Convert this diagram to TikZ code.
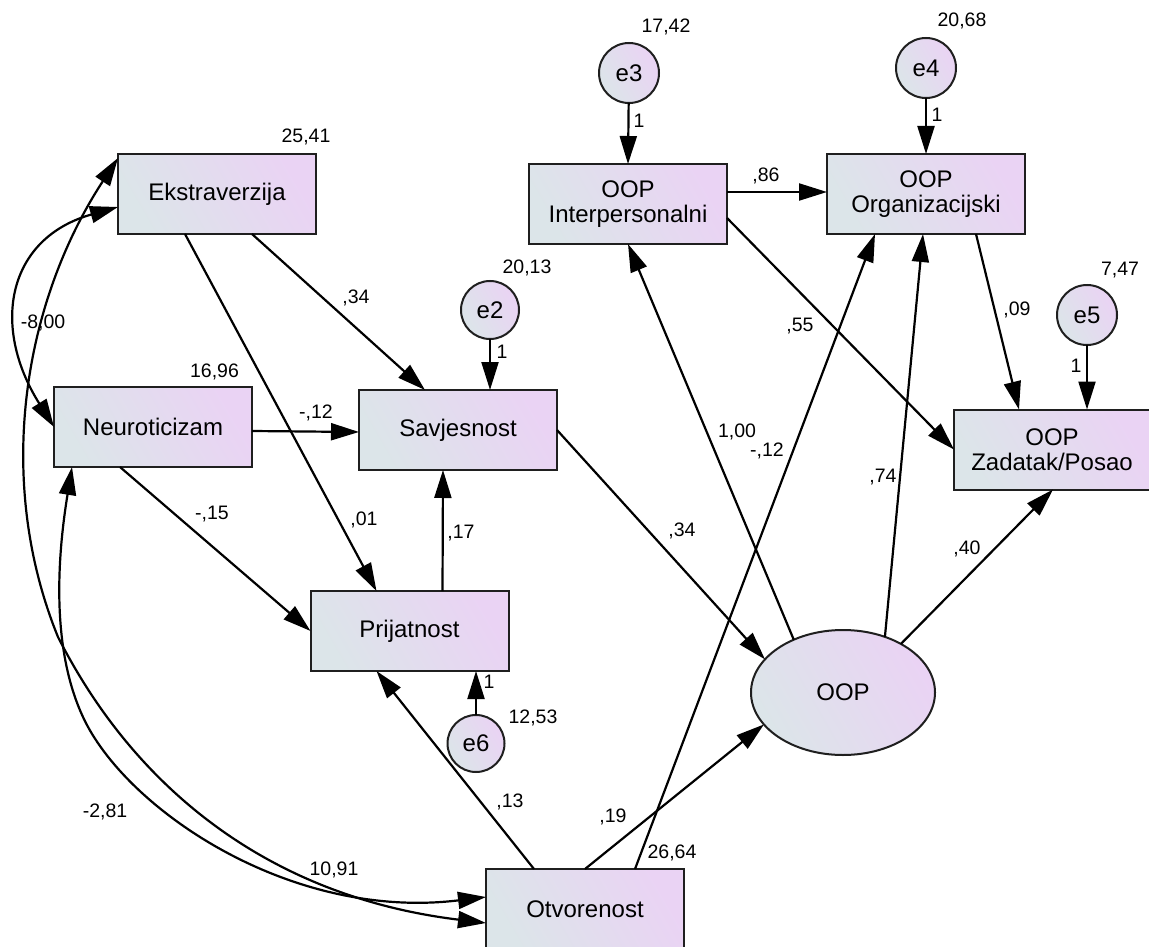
\documentclass[tikz,border=0pt]{standalone}
\usepackage{fontspec}
\setmainfont{Liberation Sans}
\usetikzlibrary{arrows.meta,calc,shapes.geometric}
\definecolor{gA}{RGB}{220,229,233}
\definecolor{gB}{RGB}{234,211,244}
\tikzset{
  fillg/.style={draw=black!88, line width=2pt, left color=gA, right color=gB, shading angle=120, inner sep=0pt, outer sep=0pt},
  box/.style={fillg, rectangle, minimum width=198pt, minimum height=80pt, align=center, font=\fontsize{24}{25}\selectfont},
  circ/.style={fillg, circle, minimum size=60pt, font=\fontsize{24}{25}\selectfont},
  ell/.style={fillg, ellipse, minimum width=184pt, minimum height=125pt, font=\fontsize{24}{25}\selectfont},
  lab/.style={font=\fontsize{19.5}{20}\selectfont, inner sep=0pt, anchor=base},
  arr/.style={line width=2.2pt, -{Triangle[length=28pt,width=17pt]}},
  biarr/.style={line width=2.2pt, {Triangle[length=28pt,width=17pt]}-{Triangle[length=28pt,width=17pt]}}
}
\begin{document}
\begin{tikzpicture}[x=1pt,y=-1pt]
\useasboundingbox (0,0) rectangle (1149,947);
% nodes
\node[box] (ext) at (217,194) {Ekstraverzija};
\node[box] (neu) at (153,427) {Neuroticizam};
\node[box] (sav) at (458,430) {Savjesnost};
\node[box] (pri) at (409.5,631) {Prijatnost};
\node[box] (otv) at (585,909) {Otvorenost};
\node[box] (int) at (628,204) {OOP\\Interpersonalni};
\node[box] (org) at (926,194) {OOP\\Organizacijski};
\node[box, minimum width=196pt] (zad) at (1052,449.5) {OOP\\Zadatak/Posao};
\node[ell] (oop) at (843,692.5) {OOP};
\node[circ] (e3) at (629,73) {e3};
\node[circ] (e4) at (926,68) {e4};
\node[circ, minimum size=58pt] (e2) at (490,310) {e2};
\node[circ] (e5) at (1087,315) {e5};
\node[circ, minimum size=57pt] (e6) at (476,743.5) {e6};
% one-way paths
\draw[arr] ($(ext.south)+(-32,0)$) -- ($(pri.north)+(-33,0)$);
\draw[arr] ($(ext.south)+(35,0)$) -- ($(sav.north)+(-33,0)$);
\draw[arr] ($(neu.east)+(0,4)$) -- ($(sav.west)+(0,2)$);
\draw[arr] ($(neu.south)+(-33,0)$) -- (pri.west);
\draw[arr] ($(pri.north)+(33,0)$) -- ($(sav.south)+(-15,0)$);
\draw[arr] (e2) -- ($(sav.north)+(32,0)$);
\draw[arr] (e6) -- ($(pri.south)+(66.5,0)$);
\draw[arr] ($(otv.north)+(-51,0)$) -- ($(pri.south)+(-33,0)$);
\draw[arr] (otv.north) -- (oop.202);
\draw[arr] ($(otv.north)+(50,0)$) -- ($(org.south)+(-51,0)$);
\draw[arr] (oop.133) -- (int.south);
\draw[arr] (oop.53) -- ($(org.south)+(-3,0)$);
\draw[arr] (oop.40) -- ($(zad.south)+(1,0)$);
\draw[arr] ($(int.east)+(0,-12)$) -- ($(org.west)+(0,-2)$);
\draw[arr] ($(int.east)+(0,14)$) -- (zad.west);
\draw[arr] ($(org.south)+(50,0)$) -- ($(zad.north)+(-33,0)$);
\draw[arr] (e5) -- ($(zad.north)+(35,0)$);
\draw[arr] (e3) -- (int.north);
\draw[arr] (e4) -- (org.north);
\draw[arr] (sav.east) -- (oop.157);
% covariances
\draw[biarr] ($(ext.west)+(0,13)$) .. controls (8,238) and (-10,325) .. (neu.west);
\draw[biarr] ($(ext.north west)+(0,4)$) .. controls (22,305) and (-5,482) .. (58,637) .. controls (134.5,788) and (269,896.6) .. ($(otv.west)+(0,14)$);
\draw[biarr] ($(neu.south west)+(18,0)$) .. controls (59,547) and (49,644) .. (83,717) .. controls (125,808) and (289,921) .. ($(otv.west)+(0,-12)$);
% labels
\node[lab] (v1) at (306,143) {25,41};
\node[lab] (v2) at (214.5,377) {16,96};
\node[lab] (v3) at (527,273) {20,13};
\node[lab] (v4) at (666,33) {17,42};
\node[lab] (v5) at (962,27) {20,68};
\node[lab] (v6) at (1120,275) {7,47};
\node[lab] (v7) at (533,723) {12,53};
\node[lab] (v8) at (672,858) {26,64};
\node[lab] (c1) at (43,328) {-8,00};
\node[lab] (c2) at (105,817) {-2,81};
\node[lab] (c3) at (334,875) {10,91};
\node[lab] (w1) at (356,303) {,34};
\node[lab] (w2) at (316,418) {-,12};
\node[lab] (w3) at (364,525) {,01};
\node[lab] (w4) at (461,538) {,17};
\node[lab] (w5) at (212,519) {-,15};
\node[lab] (w6) at (510,807) {,13};
\node[lab] (w7) at (613,822) {,19};
\node[lab] (w8) at (682,536) {,34};
\node[lab] (w9) at (737,437) {1,00};
\node[lab] (w10) at (767,456) {-,12};
\node[lab] (w11) at (766,182) {,86};
\node[lab] (w12) at (800,331) {,55};
\node[lab] (w13) at (883,482) {,74};
\node[lab] (w14) at (1017,315) {,09};
\node[lab] (w15) at (967,554) {,40};
\node[lab] (f3) at (639,128) {1};
\node[lab] (f4) at (937,122) {1};
\node[lab] (f2) at (502,358) {1};
\node[lab] (f5) at (1076,372) {1};
\node[lab] (f6) at (489,688) {1};
\end{tikzpicture}
\end{document}
